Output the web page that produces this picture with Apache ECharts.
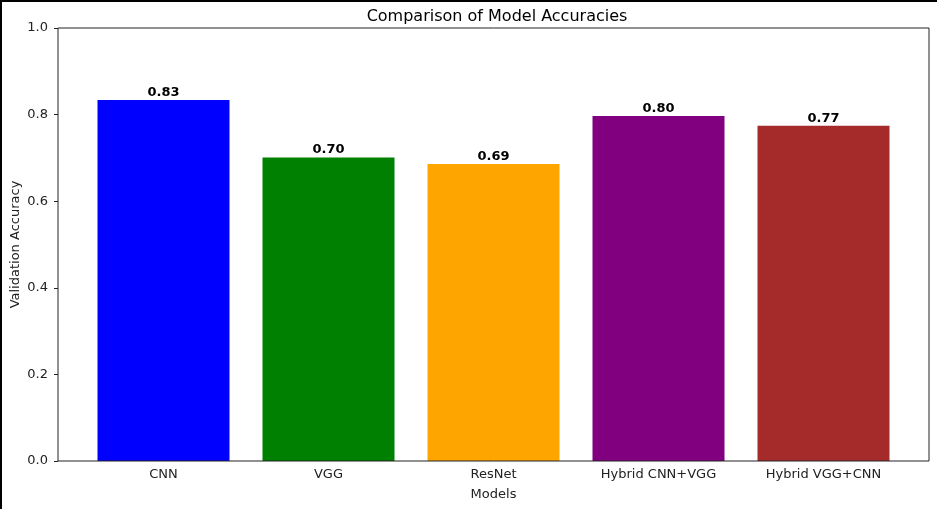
<!DOCTYPE html>
<html>
<head>
<meta charset="utf-8">
<script src="https://cdn.jsdelivr.net/npm/echarts@6.0.0/dist/echarts.min.js"></script>
<style>
  html, body { margin: 0; padding: 0; background: #fff; }
  #chart-container {
    width: 935px;
    height: 507px;
    border-top: 2px solid #000;
    border-left: 2px solid #000;
  }
</style>
</head>
<body>
<div id="chart-container"></div>
<script>
// data
const models = ["CNN", "VGG", "ResNet", "Hybrid CNN+VGG", "Hybrid VGG+CNN"];
const accuracies = [0.834, 0.701, 0.686, 0.797, 0.774];
const barColors = ["#0000ff", "#008000", "#ffa500", "#800080", "#a52a2a"];
const yTicks = [0, 0.2, 0.4, 0.6, 0.8, 1.0];

const font = "DejaVu Sans";

const chart = echarts.init(document.getElementById("chart-container"));

// frame grid spans the full plot area, bar grid is inset by matplotlib's x margins
const frame = { left: 56, right: 8, top: 26, bottom: 48 };
const inset = 23;

const option = {
  animation: false,
  title: {
    text: "Comparison of Model Accuracies",
    left: 490, top: 2, textAlign: "center",
    textStyle: { fontFamily: font, fontSize: 16, fontWeight: "normal", color: "#000" }
  },
  grid: [
    { left: frame.left, right: frame.right, top: frame.top, bottom: frame.bottom,
      containLabel: false, outerBoundsMode: "none",
      show: true, borderColor: "#222", borderWidth: 1, backgroundColor: "transparent", z: 5 },
    { left: frame.left + inset, right: frame.right + inset, top: frame.top, bottom: frame.bottom,
      containLabel: false, outerBoundsMode: "none" }
  ],
  xAxis: [
    { gridIndex: 0, type: "value", min: 0, max: 1, show: false },
    {
      gridIndex: 1, type: "category", data: models,
      name: "Models", nameLocation: "middle", nameGap: 27, nameMoveOverlap: false,
      nameTextStyle: { fontFamily: font, fontSize: 13, color: "#222" },
      axisLine: { show: false },
      axisTick: { alignWithLabel: true, length: 4, lineStyle: { color: "#222" } },
      axisLabel: { fontFamily: font, fontSize: 13, color: "#222", margin: 7 }
    }
  ],
  yAxis: [
    {
      gridIndex: 0, type: "value", min: 0, max: 1, interval: 0.2,
      name: "Validation Accuracy", nameLocation: "middle", nameGap: 36, nameMoveOverlap: false,
      nameTextStyle: { fontFamily: font, fontSize: 13, color: "#222" },
      axisLine: { show: false },
      axisTick: { show: true, length: 4, lineStyle: { color: "#222" } },
      splitLine: { show: false },
      axisLabel: {
        fontFamily: font, fontSize: 13, color: "#222", margin: 10,
        formatter: v => v.toFixed(1)
      }
    },
    { gridIndex: 1, type: "value", min: 0, max: 1, show: false }
  ],
  series: [{
    type: "bar",
    xAxisIndex: 1, yAxisIndex: 1,
    barWidth: "80%",
    data: accuracies.map((v, i) => ({ value: v, itemStyle: { color: barColors[i] } })),
    itemStyle: { borderWidth: 0, borderRadius: 0 },
    label: {
      show: true, position: "top", distance: 1,
      fontFamily: font, fontSize: 13, fontWeight: "bold", color: "#000",
      formatter: p => p.value.toFixed(2)
    }
  }]
};

chart.setOption(option);
</script>
</body>
</html>
